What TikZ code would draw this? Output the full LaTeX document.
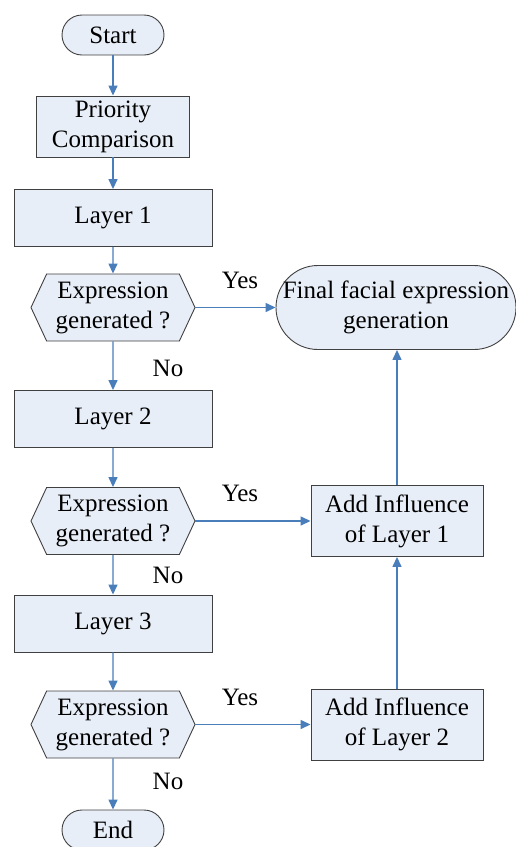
\documentclass[tikz,border=0pt]{standalone}
\usepackage{fontspec}
\setmainfont{Liberation Serif}
\newfontfamily\flowfont{Liberation Serif}
\usetikzlibrary{arrows.meta, positioning, shapes.symbols}
\definecolor{boxfill}{HTML}{E8EEF7}
\definecolor{boxline}{HTML}{404040}
\definecolor{flowblue}{HTML}{4A7EBB}

\begin{document}
\begin{tikzpicture}[x=1pt, y=-1pt,
    every node/.style={font=\flowfont\fontsize{25}{30}\selectfont, align=center, inner sep=0pt},
    terminal/.style={draw=boxline, fill=boxfill, line width=0.9pt, rounded corners=20pt, minimum width=102pt, minimum height=40pt},
    process/.style={draw=boxline, fill=boxfill, line width=0.9pt, minimum width=198pt, minimum height=57pt},
    decision/.style={draw=boxline, fill=boxfill, line width=0.9pt, shape=signal, signal to=west and east, signal pointer angle=130, minimum width=164pt, minimum height=67pt},
    flow/.style={-{Triangle[length=10pt, width=9pt]}, draw=flowblue, line width=1.4pt}]

            \useasboundingbox (0,0) rectangle (516,847);

            \node[terminal] (start) at (113,35) {Start};
            \node[process, minimum width=153pt, minimum height=61pt] (prio) at (113,126.5) {Priority\\Comparison};
            \node[process] (layerA) at (113,218) {Layer 1};
            \node[decision] (decA) at (113,307.5) {Expression\\generated ?};
            \node[process] (layerB) at (113,419) {Layer 2};
            \node[decision] (decB) at (113,521) {Expression\\generated ?};
            \node[process] (layerC) at (113,623.5) {Layer 3};
            \node[decision] (decC) at (113,724.5) {Expression\\generated ?};
            \node[terminal] (finish) at (113,830) {End};

            \node[terminal, minimum width=240pt, minimum height=84pt, rounded corners=42pt] (final) at (396,307.5) {Final facial expression\\generation};
            \node[process, minimum width=172pt, minimum height=71pt] (addA) at (397,521) {Add Influence\\of Layer 1};
            \node[process, minimum width=172pt, minimum height=71pt] (addB) at (397,724.5) {Add Influence\\of Layer 2};

            \node (yesA) at (240,280) {Yes};
            \node (yesB) at (240,493) {Yes};
            \node (yesC) at (240,697) {Yes};
            \node (noA) at (168,368) {No};
            \node (noB) at (168,575) {No};
            \node (noC) at (168,781) {No};

            \draw[flow] (start) -- (prio);
            \draw[flow] (prio) -- (layerA);
            \draw[flow] (layerA) -- (decA);
            \draw[flow] (decA) -- (layerB);
            \draw[flow] (layerB) -- (decB);
            \draw[flow] (decB) -- (layerC);
            \draw[flow] (layerC) -- (decC);
            \draw[flow] (decC) -- (finish);

            \draw[flow] (decA.east) -- (final.west);
            \draw[flow] (decB.east) -- (addA.west);
            \draw[flow] (decC.east) -- (addB.west);
            \draw[flow] (addB) -- (addA);
            \draw[flow] (addA.north) -- (addA.north |- final.south);

        \end{tikzpicture}
\end{document}
